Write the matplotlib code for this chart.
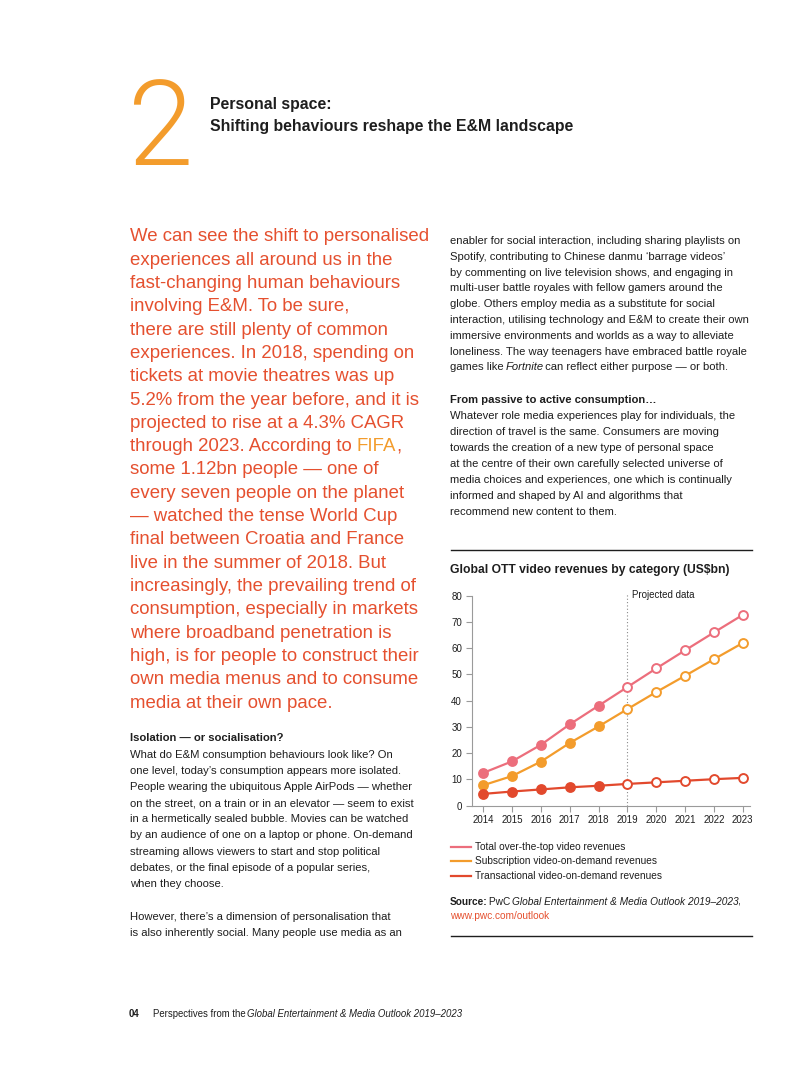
import matplotlib
matplotlib.use('Agg')
import matplotlib.pyplot as plt
from matplotlib.lines import Line2D

# chart data (US$bn)
years = [2014, 2015, 2016, 2017, 2018, 2019, 2020, 2021, 2022, 2023]
total = [12.5, 16.9, 23.2, 31.0, 38.1, 45.2, 52.3, 59.2, 66.0, 72.7]
svod = [7.8, 11.3, 16.8, 23.9, 30.2, 36.8, 43.3, 49.5, 55.8, 62.0]
tvod = [4.5, 5.4, 6.2, 7.0, 7.6, 8.3, 8.9, 9.5, 10.1, 10.6]
first_projected = 2019
series_names = ['Total over-the-top video revenues',
                'Subscription video-on-demand revenues',
                'Transactional video-on-demand revenues']
series_colors = ['#EC6E7C', '#F39C2C', '#E2492D']

ORANGE = '#E5502F'
LIGHT = '#F39C2C'
INK = '#1E1E1E'

plt.rcParams['font.family'] = ['Liberation Sans', 'DejaVu Sans']

W, H = 802, 1066
fig = plt.figure(figsize=(W / 100, H / 100), dpi=100)
rend = fig.canvas.get_renderer()


def fx(x):
    return x / W


def fy(y):
    return 1 - y / H


def put(x, y, s, size, color=INK, **kw):
    return fig.text(fx(x), fy(y), s, fontsize=size, color=color, va='center', **kw)


def advance(s, prop):
    # pen advance of s: ink width of 'x'+s+'x' minus that of 'xx'
    w1 = rend.get_text_width_height_descent('x' + s + 'x', prop, ismath=False)[0]
    w0 = rend.get_text_width_height_descent('xx', prop, ismath=False)[0]
    return w1 - w0


def runs(x, y, parts, size, color=INK):
    # draw a line made of differently styled pieces, one after another
    for s, style in parts:
        kw = dict(style)
        c = kw.pop('color', color)
        t = put(x, y, s, size, c, **kw)
        x += advance(s, t.get_fontproperties()) - 1.5
    return x


def block(x, y0, step, lines, size, color=INK):
    for i, ln in enumerate(lines):
        if not ln:
            continue
        if isinstance(ln, str):
            ln = [(ln, {})]
        runs(x, y0 + i * step, ln, size, color)


def right_edge(x, y, s, size, **kw):
    t = put(x, y, s, size, **kw)
    r = t.get_window_extent(renderer=rend).x1
    t.remove()
    return r


B = {'fontweight': 'bold'}
I = {'fontstyle': 'italic'}
GEMO = 'Global Entertainment & Media Outlook 2019\u20132023'

# heading
fig.text(fx(128), fy(165), '2', fontsize=85, color=LIGHT, family='Roboto',
         fontweight=300, va='baseline', ha='left')
put(210, 104, 'Personal space:', 11.4, fontweight='bold')
put(210, 127, 'Shifting behaviours reshape the E&M landscape', 11.4, fontweight='bold')

# orange lead paragraph
lead = [
    'We can see the shift to personalised',
    'experiences all around us in the',
    'fast-changing human behaviours',
    'involving E&M. To be sure,',
    'there are still plenty of common',
    'experiences. In 2018, spending on',
    'tickets at movie theatres was up',
    '5.2% from the year before, and it is',
    'projected to rise at a 4.3% CAGR',
    None,
    'some 1.12bn people \u2014 one of',
    'every seven people on the planet',
    '\u2014 watched the tense World Cup',
    'final between Croatia and France',
    'live in the summer of 2018. But',
    'increasingly, the prevailing trend of',
    'consumption, especially in markets',
    'where broadband penetration is',
    'high, is for people to construct their',
    'own media menus and to consume',
    'media at their own pace.',
]
block(130, 237, 23.3, lead, 13.4, ORANGE)
# line with the highlighted FIFA: pieces anchored on the right edges of the full line
y_fifa = 237 + 9 * 23.3
put(130, y_fifa, 'through 2023. According to', 13.4, ORANGE)
r1 = right_edge(130, y_fifa, 'through 2023. According to FIFA', 13.4)
r2 = right_edge(130, y_fifa, 'through 2023. According to FIFA,', 13.4)
put(r1, y_fifa, 'FIFA', 13.4, LIGHT, ha='right')
put(r2, y_fifa, ',', 13.4, ORANGE, ha='right')

# left body
left = [
    [('Isolation \u2014 or socialisation?', B)],
    'What do E&M consumption behaviours look like? On',
    'one level, today\u2019s consumption appears more isolated.',
    'People wearing the ubiquitous Apple AirPods \u2014 whether',
    'on the street, on a train or in an elevator \u2014 seem to exist',
    'in a hermetically sealed bubble. Movies can be watched',
    'by an audience of one on a laptop or phone. On-demand',
    'streaming allows viewers to start and stop political',
    'debates, or the final episode of a popular series,',
    'when they choose.',
    None,
    'However, there\u2019s a dimension of personalisation that',
    'is also inherently social. Many people use media as an',
]
block(130, 738.3, 16.2, left, 8.15)

# right body
right1 = [
    'enabler for social interaction, including sharing playlists on',
    'Spotify, contributing to Chinese danmu \u2018barrage videos\u2019',
    'by commenting on live television shows, and engaging in',
    'multi-user battle royales with fellow gamers around the',
    'globe. Others employ media as a substitute for social',
    'interaction, utilising technology and E&M to create their own',
    'immersive environments and worlds as a way to alleviate',
    'loneliness. The way teenagers have embraced battle royale',
    [('games like ', {}), ('Fortnite', I), (' can reflect either purpose \u2014 or both.', {})],
]
block(450, 241, 15.8, right1, 8.15)

right2 = [
    [('From passive to active consumption\u2026', B)],
    'Whatever role media experiences play for individuals, the',
    'direction of travel is the same. Consumers are moving',
    'towards the creation of a new type of personal space',
    'at the centre of their own carefully selected universe of',
    'media choices and experiences, one which is continually',
    'informed and shaped by AI and algorithms that',
    'recommend new content to them.',
]
block(450, 400, 16.0, right2, 8.15)

# chart frame
fig.add_artist(Line2D([fx(451), fx(752)], [fy(549.5), fy(549.5)], color=INK, lw=1.0))
put(450, 570, 'Global OTT video revenues by category (US$bn)', 8.7, fontweight='bold')

ax = fig.add_axes([fx(471.7), fy(805.7), (750 - 471.7) / W, (805.7 - 595.7) / H])
ax.set_xlim(2013.6, 2023.25)
ax.set_ylim(0, 80)
ax.set_yticks(range(0, 81, 10))
ax.set_xticks(years)
for s in ['top', 'right']:
    ax.spines[s].set_visible(False)
for s in ['left', 'bottom']:
    ax.spines[s].set_color('#9A9A9A')
    ax.spines[s].set_linewidth(0.8)
ax.tick_params(length=4, width=0.8, color='#9A9A9A', labelsize=7, labelcolor=INK, pad=3)

ax.plot([first_projected, first_projected], [0, 81], ls=(0, (1, 2)), color='#8A8A8A',
        lw=0.8, clip_on=False, zorder=1)
ax.text(first_projected + 0.15, 80.3, 'Projected data', fontsize=7, color=INK, va='center')

for vals, c in zip([total, svod, tvod], series_colors):
    ax.plot(years, vals, color=c, lw=1.6, zorder=2, clip_on=False)
    hist = [(x, v) for x, v in zip(years, vals) if x < first_projected]
    proj = [(x, v) for x, v in zip(years, vals) if x >= first_projected]
    ax.plot([p[0] for p in hist], [p[1] for p in hist], 'o', ms=6.4, mfc=c, mec=c,
            mew=1.4, zorder=3, clip_on=False)
    ax.plot([p[0] for p in proj], [p[1] for p in proj], 'o', ms=6.4, mfc='white', mec=c,
            mew=1.4, zorder=3, clip_on=False)

# legend
for i, (name, c) in enumerate(zip(series_names, series_colors)):
    yy = 846.7 + i * 14.5
    fig.add_artist(Line2D([fx(451), fx(471)], [fy(yy), fy(yy)], color=c, lw=1.6))
    put(475, yy, name, 7.3)

runs(450, 901.7, [('Source:', B), (' PwC ', {}), (GEMO, I), (',', {})], 7.3)
put(450, 916, 'www.pwc.com/outlook', 7.3, ORANGE)
fig.add_artist(Line2D([fx(451), fx(752)], [fy(936), fy(936)], color=INK, lw=1.0))

# footer
put(129, 1014, '04', 6.9, fontweight='bold')
runs(153, 1014, [('Perspectives from the ', {}), (GEMO, I)], 6.9)

fig.savefig('out.png', dpi=100)
